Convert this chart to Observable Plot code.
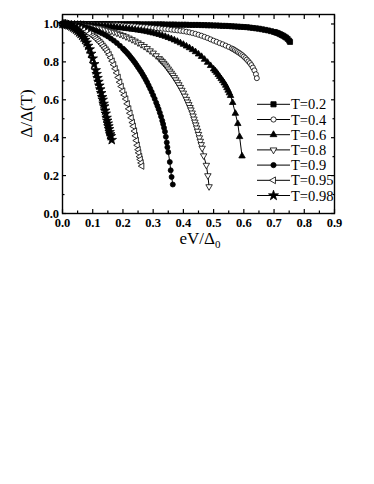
<!DOCTYPE html>
<html><head><meta charset="utf-8">
<script src="https://cdn.jsdelivr.net/npm/d3@7"></script>
<script src="https://cdn.jsdelivr.net/npm/@observablehq/plot@0.6"></script>
<style>body{margin:0;background:#fff;}</style>
</head><body><div id="chart"></div>
<script>
// ---- data ----
const seriesLabels = ["T=0.2","T=0.4","T=0.6","T=0.8","T=0.9","T=0.95","T=0.98"];
const t02 = [[0,1.000],[0.01,1.000],[0.02,1.000],[0.03,1.000],[0.04,1.000],[0.05,1.000],[0.06,1.000],[0.07,1.000],[0.08,1.000],[0.09,1.000],[0.10,1.000],[0.11,1.000],[0.12,1.000],[0.13,1.000],[0.14,1.000],[0.15,1.000],[0.16,0.999],[0.17,0.999],[0.18,0.999],[0.19,0.999],[0.20,0.999],[0.21,0.999],[0.22,0.999],[0.23,0.999],[0.24,0.999],[0.25,0.999],[0.26,0.998],[0.27,0.998],[0.28,0.998],[0.29,0.998],[0.30,0.998],[0.31,0.998],[0.32,0.998],[0.33,0.998],[0.34,0.997],[0.35,0.997],[0.36,0.997],[0.37,0.997],[0.38,0.996],[0.39,0.996],[0.40,0.996],[0.41,0.996],[0.42,0.995],[0.43,0.995],[0.44,0.995],[0.45,0.995],[0.46,0.994],[0.47,0.994],[0.48,0.993],[0.49,0.993],[0.50,0.992],[0.51,0.992],[0.52,0.991],[0.53,0.990],[0.54,0.990],[0.55,0.989],[0.56,0.988],[0.57,0.987],[0.58,0.986],[0.59,0.985],[0.60,0.984],[0.61,0.983],[0.62,0.981],[0.63,0.979],[0.64,0.977],[0.65,0.975],[0.66,0.972],[0.67,0.969],[0.68,0.966],[0.69,0.962],[0.70,0.958],[0.705,0.956],[0.71,0.953],[0.715,0.950],[0.72,0.946],[0.725,0.942],[0.73,0.938],[0.735,0.933],[0.74,0.928],[0.745,0.921],[0.75,0.912],[0.753,0.905]];
const t04 = [[0,1.000],[0.01,1.000],[0.02,1.000],[0.03,1.000],[0.04,1.000],[0.05,0.999],[0.06,0.999],[0.07,0.999],[0.08,0.999],[0.09,0.998],[0.10,0.998],[0.11,0.997],[0.12,0.997],[0.13,0.996],[0.14,0.996],[0.15,0.995],[0.16,0.995],[0.17,0.994],[0.18,0.994],[0.19,0.993],[0.20,0.992],[0.21,0.991],[0.22,0.990],[0.23,0.989],[0.24,0.988],[0.25,0.987],[0.26,0.986],[0.27,0.984],[0.28,0.983],[0.29,0.981],[0.30,0.980],[0.31,0.978],[0.32,0.977],[0.33,0.975],[0.34,0.974],[0.35,0.972],[0.36,0.970],[0.37,0.968],[0.38,0.966],[0.39,0.964],[0.40,0.962],[0.41,0.959],[0.42,0.956],[0.43,0.952],[0.44,0.948],[0.45,0.943],[0.46,0.938],[0.47,0.932],[0.48,0.926],[0.49,0.919],[0.50,0.912],[0.51,0.906],[0.52,0.899],[0.53,0.893],[0.54,0.886],[0.55,0.879],[0.56,0.871],[0.565,0.867],[0.57,0.862],[0.575,0.857],[0.58,0.852],[0.585,0.847],[0.59,0.841],[0.595,0.835],[0.60,0.828],[0.605,0.820],[0.61,0.812],[0.615,0.803],[0.62,0.794],[0.625,0.783],[0.63,0.770],[0.635,0.755],[0.64,0.735],[0.643,0.714]];
const t06 = [[0,1.000],[0.01,1.000],[0.02,1.000],[0.03,0.999],[0.04,0.999],[0.05,0.998],[0.06,0.998],[0.07,0.997],[0.08,0.996],[0.09,0.995],[0.10,0.994],[0.11,0.993],[0.12,0.992],[0.13,0.990],[0.14,0.989],[0.15,0.987],[0.16,0.986],[0.17,0.984],[0.18,0.982],[0.19,0.980],[0.20,0.978],[0.21,0.976],[0.22,0.974],[0.23,0.972],[0.24,0.970],[0.25,0.967],[0.26,0.965],[0.27,0.962],[0.28,0.959],[0.29,0.956],[0.30,0.952],[0.31,0.948],[0.32,0.944],[0.33,0.939],[0.34,0.934],[0.35,0.928],[0.36,0.922],[0.37,0.915],[0.38,0.908],[0.39,0.900],[0.40,0.892],[0.41,0.883],[0.42,0.874],[0.43,0.864],[0.44,0.853],[0.45,0.841],[0.46,0.828],[0.47,0.813],[0.48,0.797],[0.49,0.780],[0.50,0.762],[0.505,0.753],[0.51,0.744],[0.515,0.733],[0.52,0.722],[0.525,0.711],[0.53,0.700],[0.535,0.688],[0.54,0.676],[0.544,0.663],[0.548,0.650],[0.552,0.636],[0.556,0.622],[0.563,0.585],[0.572,0.528],[0.580,0.474],[0.586,0.405],[0.594,0.303]];
const t08 = [[0,1.000],[0.01,1.000],[0.02,0.999],[0.03,0.998],[0.04,0.997],[0.05,0.996],[0.06,0.994],[0.07,0.992],[0.08,0.990],[0.09,0.988],[0.10,0.985],[0.11,0.982],[0.12,0.979],[0.13,0.975],[0.14,0.971],[0.15,0.967],[0.16,0.962],[0.17,0.957],[0.18,0.952],[0.19,0.946],[0.20,0.940],[0.21,0.933],[0.22,0.926],[0.23,0.918],[0.24,0.910],[0.25,0.901],[0.26,0.892],[0.27,0.882],[0.28,0.871],[0.29,0.859],[0.30,0.847],[0.31,0.833],[0.32,0.818],[0.325,0.810],[0.33,0.802],[0.335,0.793],[0.34,0.784],[0.345,0.774],[0.35,0.763],[0.355,0.752],[0.36,0.741],[0.365,0.730],[0.37,0.718],[0.375,0.706],[0.38,0.693],[0.385,0.680],[0.39,0.666],[0.395,0.651],[0.40,0.636],[0.405,0.620],[0.41,0.603],[0.414,0.589],[0.418,0.575],[0.422,0.560],[0.425,0.547],[0.429,0.531],[0.432,0.515],[0.435,0.499],[0.438,0.483],[0.441,0.468],[0.444,0.452],[0.447,0.435],[0.45,0.418],[0.453,0.400],[0.456,0.382],[0.459,0.364],[0.462,0.345],[0.467,0.305],[0.476,0.255],[0.481,0.200],[0.485,0.142]];
const t09 = [[0,1.000],[0.01,0.999],[0.02,0.998],[0.03,0.997],[0.04,0.995],[0.05,0.993],[0.06,0.990],[0.07,0.986],[0.08,0.982],[0.09,0.977],[0.10,0.972],[0.11,0.966],[0.12,0.959],[0.13,0.951],[0.14,0.943],[0.15,0.934],[0.16,0.923],[0.17,0.912],[0.18,0.899],[0.19,0.885],[0.20,0.870],[0.205,0.862],[0.21,0.854],[0.215,0.845],[0.22,0.836],[0.225,0.826],[0.23,0.816],[0.235,0.806],[0.24,0.795],[0.245,0.784],[0.25,0.772],[0.255,0.760],[0.26,0.748],[0.265,0.735],[0.27,0.721],[0.275,0.707],[0.28,0.692],[0.285,0.676],[0.29,0.659],[0.295,0.642],[0.30,0.624],[0.305,0.605],[0.31,0.585],[0.314,0.568],[0.318,0.551],[0.322,0.532],[0.326,0.512],[0.33,0.490],[0.333,0.472],[0.336,0.452],[0.339,0.432],[0.342,0.405],[0.345,0.375],[0.347,0.350],[0.350,0.324],[0.355,0.272],[0.358,0.228],[0.361,0.193],[0.365,0.153]];
const t095 = [[0,1.000],[0.01,0.999],[0.02,0.996],[0.03,0.992],[0.04,0.988],[0.05,0.982],[0.06,0.976],[0.07,0.968],[0.08,0.960],[0.09,0.950],[0.10,0.938],[0.105,0.932],[0.11,0.925],[0.115,0.918],[0.12,0.910],[0.125,0.902],[0.13,0.893],[0.135,0.883],[0.14,0.873],[0.145,0.863],[0.15,0.852],[0.155,0.838],[0.16,0.822],[0.165,0.804],[0.17,0.785],[0.175,0.764],[0.18,0.742],[0.185,0.718],[0.19,0.693],[0.195,0.670],[0.20,0.646],[0.205,0.625],[0.21,0.604],[0.215,0.579],[0.22,0.552],[0.224,0.529],[0.228,0.505],[0.232,0.480],[0.235,0.460],[0.239,0.435],[0.242,0.410],[0.245,0.385],[0.248,0.360],[0.251,0.337],[0.253,0.320],[0.256,0.300],[0.258,0.285],[0.261,0.267],[0.263,0.250]];
const t098 = [[0,1.000],[0.005,0.999],[0.01,0.998],[0.015,0.996],[0.02,0.994],[0.025,0.991],[0.03,0.987],[0.035,0.982],[0.04,0.977],[0.045,0.971],[0.05,0.964],[0.055,0.956],[0.06,0.948],[0.065,0.938],[0.07,0.928],[0.075,0.916],[0.08,0.902],[0.085,0.885],[0.09,0.866],[0.095,0.843],[0.10,0.818],[0.105,0.788],[0.11,0.756],[0.113,0.736],[0.116,0.715],[0.119,0.695],[0.122,0.675],[0.125,0.655],[0.128,0.635],[0.131,0.614],[0.133,0.600],[0.136,0.579],[0.138,0.565],[0.141,0.543],[0.143,0.527],[0.146,0.505],[0.148,0.490],[0.150,0.475],[0.152,0.460],[0.154,0.445],[0.156,0.430],[0.158,0.418],[0.160,0.408],[0.163,0.388]];
const xTicks = [0,0.1,0.2,0.3,0.4,0.5,0.6,0.7,0.8,0.9];
const xMinor = [0.05,0.15,0.25,0.35,0.45,0.55,0.65,0.75,0.85];
const yTicks = [0,0.2,0.4,0.6,0.8,1.0];
const yMinor = [0.1,0.3,0.5,0.7,0.9];
const xTitle = "eV/Δ", xTitleSub = "0", yTitle = "Δ/Δ(T)";

(function () {
// ---- styling ----
const allData = [t02,t04,t06,t08,t09,t095,t098];
const styles = [
  {symbol:"square",   r:2.8, fill:"black", rotate:0},
  {symbol:"circle",   r:2.5, fill:"white", rotate:0},
  {symbol:"triangle", r:2.4, fill:"black", rotate:0},
  {symbol:"triangle", r:2.4, fill:"white", rotate:180},
  {symbol:"circle",   r:2.5, fill:"black", rotate:0},
  {symbol:"triangle", r:2.4, fill:"white", rotate:-90},
  {symbol:"star",     r:3.0, fill:"black", rotate:0}
];
const d3sym = {square:d3.symbolSquare, circle:d3.symbolCircle, triangle:d3.symbolTriangle, star:d3.symbolStar};

const marks = [];
allData.forEach((data, i) => {
  const s = styles[i];
  marks.push(Plot.line(data, {x: d => d[0], y: d => d[1], stroke: "black", strokeWidth: 1}));
  marks.push(Plot.dot(data, {x: d => d[0], y: d => d[1], symbol: s.symbol, r: s.r, fill: s.fill, stroke: "black", strokeWidth: 0.8, rotate: s.rotate}));
});

const noText = () => "";
const plot = Plot.plot({
  width: 374, height: 484,
  marginLeft: 62, marginRight: 40, marginTop: 14, marginBottom: 271,
  x: {domain: [0, 0.9]},
  y: {domain: [0, 1.05]},
  style: {fontFamily: "'Liberation Serif', serif", fontSize: "12.5px", fontWeight: "bold", color: "black", background: "white"},
  marks: [
    Plot.axisX({ticks: xTicks, tickFormat: ".1f", tickSize: -4, tickPadding: 9, label: null, strokeWidth: 1.2}),
    Plot.axisX({ticks: xMinor, tickFormat: noText, tickSize: -2.5, tickPadding: 0, label: null, strokeWidth: 1.2}),
    Plot.axisX({anchor: "top", ticks: xTicks, tickFormat: noText, tickSize: -4, label: null, strokeWidth: 1.2}),
    Plot.axisX({anchor: "top", ticks: xMinor, tickFormat: noText, tickSize: -2.5, label: null, strokeWidth: 1.2}),
    Plot.axisY({ticks: yTicks, tickFormat: ".1f", tickSize: -4, tickPadding: 7.5, label: null, strokeWidth: 1.2}),
    Plot.axisY({ticks: yMinor, tickFormat: noText, tickSize: -2.5, label: null, strokeWidth: 1.2}),
    Plot.axisY({anchor: "right", ticks: yTicks, tickFormat: noText, tickSize: -4, label: null, strokeWidth: 1.2}),
    Plot.axisY({anchor: "right", ticks: yMinor, tickFormat: noText, tickSize: -2.5, label: null, strokeWidth: 1.2}),
    ...marks,
    Plot.frame({stroke: "black", strokeWidth: 1.4})
  ]
});
document.getElementById("chart").appendChild(plot);

// ---- titles and legend, positioned from the plot's scales ----
const sx = plot.scale("x"), sy = plot.scale("y");
const svg = d3.select(plot);
const fLeft = sx.range[0], fRight = sx.range[1], fBottom = sy.range[0], fTop = sy.range[1];

const xt = svg.append("text")
  .attr("x", (fLeft + fRight) / 2 + 2).attr("y", fBottom + 31)
  .attr("text-anchor", "middle")
  .style("font-family", "'Liberation Serif', serif").style("font-size", "17px").style("font-weight", "normal");
xt.append("tspan").text(xTitle);
xt.append("tspan").attr("font-size", "11px").attr("dy", 4).text(xTitleSub);

svg.append("text")
  .attr("transform", `translate(${fLeft - 30},${(fTop + fBottom) / 2}) rotate(-90)`)
  .attr("text-anchor", "middle")
  .style("font-family", "'Liberation Serif', serif").style("font-size", "17px").style("font-weight", "normal")
  .text(yTitle);

const lg = svg.append("g");
seriesLabels.forEach((lab, i) => {
  const s = styles[i];
  const yy = fTop + 90.3 + i * 15.2;
  const x0 = fRight - 77, x1 = fRight - 44, xm = (x0 + x1) / 2;
  lg.append("line").attr("x1", x0).attr("x2", x1).attr("y1", yy).attr("y2", yy).attr("stroke", "black").attr("stroke-width", 1);
  lg.append("path")
    .attr("d", d3.symbol(d3sym[s.symbol], Math.PI * s.r * s.r * 1.1)())
    .attr("transform", `translate(${xm},${yy}) rotate(${s.rotate})`)
    .attr("fill", s.fill).attr("stroke", "black").attr("stroke-width", 0.8);
  lg.append("text").attr("x", x1 + 1).attr("y", yy).attr("dy", "0.35em")
    .attr("text-anchor", "start")
    .style("font-family", "'Liberation Serif', serif").style("font-size", "14.5px").style("font-weight", "normal")
    .text(lab);
});
})();
</script>
</body></html>
